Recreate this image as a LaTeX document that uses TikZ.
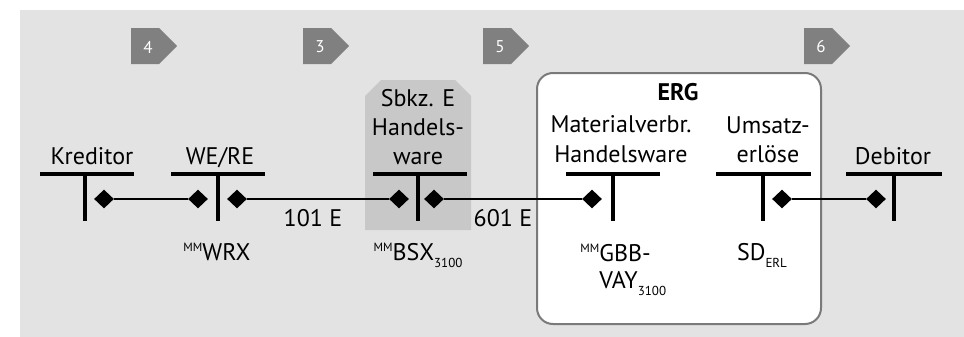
\documentclass[tikz,border=0pt]{standalone}
\usepackage{fontspec}
\setmainfont{PT Sans}
\usetikzlibrary{shapes.geometric}
\definecolor{bggrey}{HTML}{E3E3E3}
\definecolor{boxgrey}{HTML}{C8C8C8}
\definecolor{taggrey}{HTML}{808080}
\definecolor{erggrey}{HTML}{7A7A7A}
\newcommand{\mmsup}{\raisebox{4.3pt}{\fontsize{6}{6}\selectfont MM}}
\newcommand{\lowsub}[1]{\raisebox{-3.5pt}{\fontsize{6.5}{6.5}\selectfont #1}}
\tikzset{
  tline/.style={line width=1.6pt},
  dia/.style={diamond, fill=black, inner sep=0pt, minimum width=10pt, minimum height=9.5pt},
  lbl/.style={font=\fontsize{12}{14.7}\selectfont, inner sep=0pt, align=center},
  tagtext/.style={text=white, font=\fontsize{8.5}{8.5}\selectfont, inner sep=0pt}
}
\begin{document}
\begin{tikzpicture}[x=0.5pt,y=-0.5pt]
  \useasboundingbox (0,0) rectangle (964,337);
  \fill[bggrey] (20,10) rectangle (964,337);
  % step tags
  \foreach \n/\x in {4/131,3/303,5/483,6/804} {
    \fill[taggrey] (\x,28) -- ++(28,0) -- ++(18,18) -- ++(-18,18) -- ++(-28,0) -- cycle;
    \node[tagtext] (tag\n) at (\x+17,47) {\n};
  }
  % special stock and P&L boxes
  \fill[boxgrey] (365,230) -- (365,96) -- (381,80) -- (455,80) -- (471,96) -- (471,230) -- cycle;
  \draw[erggrey, line width=1pt, fill=white, rounded corners=8pt] (537,73) rectangle (821,324);
  % T accounts
  \foreach \l/\v/\r in {40/85/134, 171/218/265, 373/418/467, 566/613/660, 716/763/811, 846/894/942}
    \draw[tline] (\l,174) -- (\r,174) (\v,174) -- (\v,221);
  \draw
    (92,164) node[lbl, anchor=base] (kred) {Kreditor}
    (220,164) node[lbl, anchor=base] (were) {WE/RE}
    (418,127) node[lbl] (sbkz) {Sbkz. E\\Handels-\\ware}
    (678,100) node[lbl, anchor=base, font=\fontsize{12}{14.7}\selectfont\bfseries] (erg) {ERG}
    (621,139) node[lbl] (mat) {Materialverbr.\\Handelsware}
    (768,140) node[lbl] (ums) {Umsatz-\\erlöse}
    (893,164) node[lbl, anchor=base] (deb) {Debitor};
  \draw
    (217,260) node[lbl, anchor=base] (wrx) {\mmsup WRX}
    (418,260) node[lbl, anchor=base] (bsx) {\mmsup BSX\lowsub{3100}}
    (599,270) node[lbl, anchor=west, align=left, font=\fontsize{12}{13.5}\selectfont] (gbb) {\llap{\mmsup}GBB-\\VAY\lowsub{3100}}
    (762,260) node[lbl, anchor=base] (erl) {SD\lowsub{ERL}};
  % postings
  \draw
    (104,199) node[dia] (kred-r) {}
    (198,199) node[dia] (were-l) {}
    (237,199) node[dia] (were-r) {}
    (399,199) node[dia] (sbkz-l) {}
    (434,199) node[dia] (sbkz-r) {}
    (592,199) node[dia] (mat-l) {}
    (782,199) node[dia] (ums-r) {}
    (876,199) node[dia] (deb-l) {};
  \begin{scope}[line width=1.4pt]
    \draw (kred-r) to (were-l);
    \draw (were-r) to (sbkz-l);
    \draw (sbkz-r) to (mat-l);
    \draw (ums-r) to (deb-l);
  \end{scope}
  \draw
    (313,226) node[lbl, anchor=base] (mvt101) {101 E}
    (503,226) node[lbl, anchor=base] (mvt601) {601 E};
\end{tikzpicture}
\end{document}
